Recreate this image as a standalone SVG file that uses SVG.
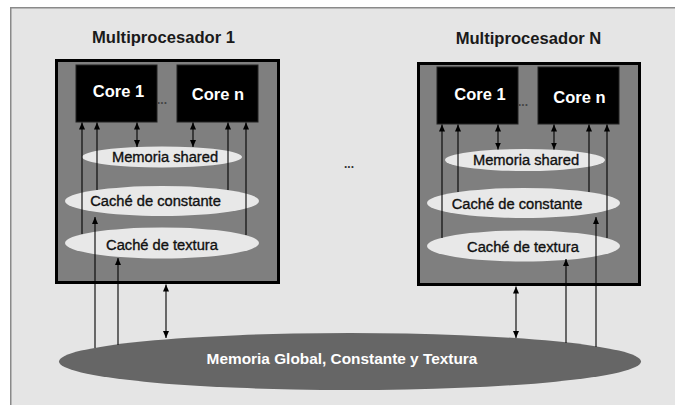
<svg xmlns="http://www.w3.org/2000/svg" width="675" height="405" viewBox="0 0 675 405">
<defs>
<marker id="ah" markerUnits="userSpaceOnUse" markerWidth="8" markerHeight="8" refX="7" refY="3" orient="auto-start-reverse" viewBox="0 0 8 6">
<path d="M0,0 L7,3 L0,6 z" fill="#000"/>
</marker>
<style>
.t{font-family:"Liberation Sans",Arial,sans-serif;}
.title{font-size:16.6px;font-weight:bold;fill:#1a1a1a;text-anchor:middle;}
.mp{fill:#7f7f7f;stroke:#000;stroke-width:3;}
.core{fill:#000;stroke:#222;stroke-width:1;}
.coret{font-size:16.5px;font-weight:bold;fill:#fff;text-anchor:middle;}
.mem{fill:#e8e8e8;}
.memt{font-size:14.7px;fill:#111;stroke:#111;stroke-width:0.35;text-anchor:middle;}
.dots{font-size:12px;font-weight:bold;fill:#333;}
.c{stroke:#000;stroke-width:1.1;fill:none;}
.a{marker-end:url(#ah);}
.d{marker-start:url(#ah);marker-end:url(#ah);}
</style>
</defs>
<rect x="0" y="0" width="675" height="405" fill="#fff"/>
<rect id="background" x="10.75" y="7.75" width="700" height="420" fill="#e5e5e5" stroke="#8a8a8a" stroke-width="1.5"/>
<text class="t title" x="163.5" y="43">Multiprocesador 1</text>
<text class="t title" x="528.5" y="43.5">Multiprocesador N</text>
<text class="t dots" x="344" y="168">...</text>

<g id="mp1">
<rect class="mp" x="56.5" y="60.5" width="222" height="222"/>
</g>
<g id="mp1-core1"><rect class="core" x="76" y="65" width="81" height="57"/><text class="t coret" x="118.5" y="97">Core 1</text></g>
<g id="mp1-coren"><rect class="core" x="177" y="65" width="81" height="57"/><text class="t coret" x="218" y="100">Core n</text></g>
<text class="t dots" x="157" y="104" style="fill:#444">...</text>
<g id="mp1-shared"><ellipse class="mem" cx="162" cy="157" rx="80" ry="10.5"/><text class="t memt" x="165" y="162">Memoria shared</text></g>
<g id="mp1-const"><ellipse class="mem" cx="162" cy="201" rx="97" ry="15"/><text class="t memt" x="155.5" y="206">Caché de constante</text></g>
<g id="mp1-tex"><ellipse class="mem" cx="162" cy="243" rx="97" ry="15.5"/><text class="t memt" x="162" y="250">Caché de textura</text></g>

<g id="mpN">
<rect class="mp" x="418.5" y="63.5" width="221" height="221"/>
</g>
<g id="mpN-core1"><rect class="core" x="437" y="67" width="81" height="57"/><text class="t coret" x="480" y="100">Core 1</text></g>
<g id="mpN-coren"><rect class="core" x="538" y="67" width="81" height="57"/><text class="t coret" x="579.5" y="103">Core n</text></g>
<text class="t dots" x="518" y="106" style="fill:#444">...</text>
<g id="mpN-shared"><ellipse class="mem" cx="525" cy="160" rx="80" ry="11"/><text class="t memt" x="526" y="165">Memoria shared</text></g>
<g id="mpN-const"><ellipse class="mem" cx="523.5" cy="203" rx="96.5" ry="15"/><text class="t memt" x="517" y="209">Caché de constante</text></g>
<g id="mpN-tex"><ellipse class="mem" cx="523.5" cy="246" rx="96.5" ry="15.5"/><text class="t memt" x="523" y="252">Caché de textura</text></g>

<g id="global"><ellipse cx="350" cy="361.5" rx="291" ry="28.5" fill="#666"/><text class="t" x="342" y="364" font-size="15.4" font-weight="bold" fill="#fff" text-anchor="middle">Memoria Global, Constante y Textura</text></g>

<g id="connectors">
<line class="c a" x1="82" y1="234" x2="82" y2="122.5"/>
<line class="c a" x1="97" y1="190" x2="97" y2="122.5"/>
<line class="c a" x1="228" y1="190" x2="228" y2="122.5"/>
<line class="c a" x1="246" y1="235" x2="246" y2="122.5"/>
<line class="c d" x1="137" y1="122.5" x2="137" y2="147"/>
<line class="c d" x1="193" y1="122.5" x2="193" y2="147"/>
<line class="c a" x1="95" y1="348" x2="95" y2="217"/>
<line class="c a" x1="118" y1="345" x2="118" y2="258"/>
<line class="c d" x1="166" y1="284.5" x2="166" y2="338"/>

<line class="c a" x1="442" y1="238" x2="442" y2="124.5"/>
<line class="c a" x1="458" y1="192" x2="458" y2="124.5"/>
<line class="c a" x1="589" y1="192" x2="589" y2="124.5"/>
<line class="c a" x1="607" y1="238" x2="607" y2="124.5"/>
<line class="c d" x1="498" y1="124.5" x2="498" y2="149.5"/>
<line class="c d" x1="554" y1="124.5" x2="554" y2="149.5"/>
<line class="c a" x1="596" y1="347" x2="596" y2="217"/>
<line class="c a" x1="566" y1="343" x2="566" y2="259"/>
<line class="c d" x1="516" y1="286.5" x2="516" y2="338"/>
</g>
</svg>
